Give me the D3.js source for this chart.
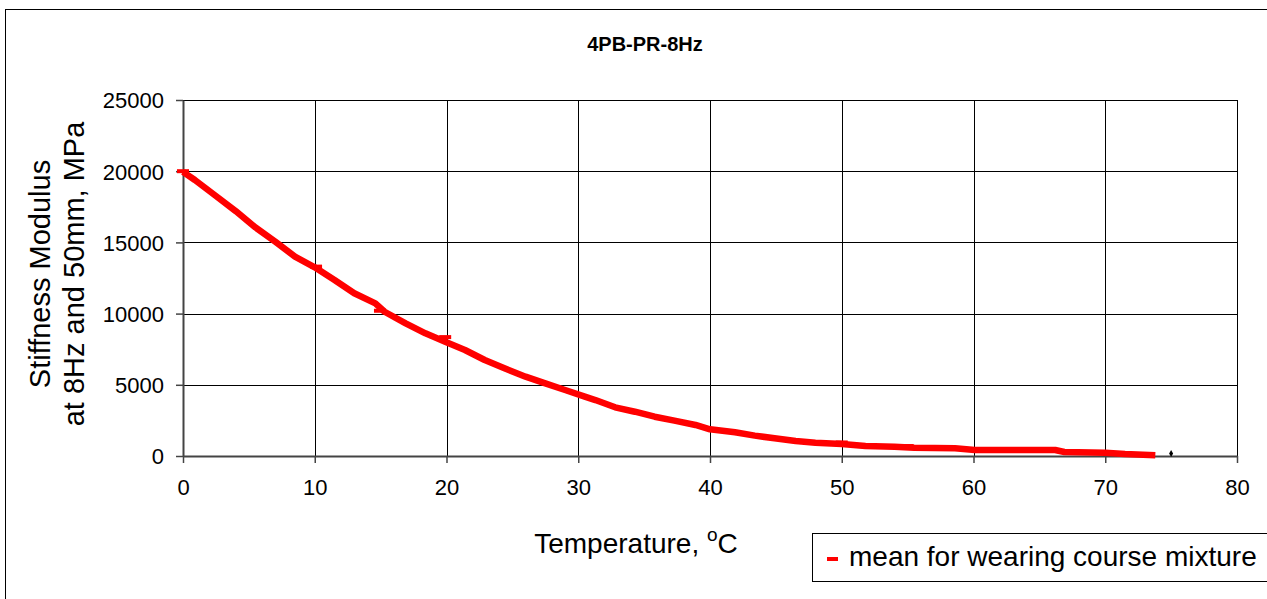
<!DOCTYPE html>
<html>
<head>
<meta charset="utf-8">
<script src="https://cdn.jsdelivr.net/npm/d3@7/dist/d3.min.js"></script>
<style>
  html, body { margin: 0; padding: 0; background: #fff; }
  svg { display: block; font-family: "Liberation Sans", Arial, sans-serif; }
</style>
</head>
<body>
<svg id="chart" width="1267" height="599"></svg>
<script>
// Stiffness modulus master curve (temperature in °C, stiffness in MPa)
const curveTemp = [0, 0.9, 2.4, 4.0, 5.5, 7.0, 8.5, 10.0, 11.5, 13.0, 14.6, 15.3, 16.9, 18.4, 19.9,
  21.4, 22.9, 24.4, 26.0, 27.5, 29.0, 30.5, 31.3, 32.8, 34.3, 35.8, 37.3, 38.9, 40.0, 41.9,
  43.4, 44.9, 46.5, 48.0, 50.0, 51.8, 54.0, 55.5, 58.6, 60.1, 66.2, 66.9, 70.0, 71.5, 73.8];
const curveStiffness = [19950, 19380, 18330, 17200, 16050, 15050, 14000, 13250, 12360, 11425, 10720, 10130, 9320, 8615, 8030,
  7445, 6740, 6160, 5570, 5100, 4635, 4165, 3930, 3420, 3110, 2760, 2480, 2180, 1875, 1665,
  1430, 1240, 1050, 935, 843, 700, 655, 585, 540, 420, 420, 280, 235, 140, 50];

// Mean values at the test temperatures (dash markers)
const meanTemp = [0, 10.1, 14.95, 19.9, 50, 55];
const meanStiffness = [20000, 13300, 10200, 8350, 950, 700];

// Single point measured at 75 °C
const extraTemp = [75];
const extraStiffness = [180];

const xTicks = [0, 10, 20, 30, 40, 50, 60, 70, 80];
const yTicks = [0, 5000, 10000, 15000, 20000, 25000];

const chartTitle = "4PB-PR-8Hz";
const yTitleLines = ["Stiffness Modulus", "at 8Hz and 50mm, MPa"];
const legendLabel = "mean for wearing course mixture";

const svg = d3.select("#chart");
const plot = { left: 183, right: 1237, top: 100, bottom: 456 };

const x = d3.scaleLinear().domain([0, 80]).range([plot.left, plot.right]);
const y = d3.scaleLinear().domain([0, 25000]).range([plot.bottom, plot.top]);

// Outer chart frame
svg.append("rect")
  .attr("x", 5.5).attr("y", 9.5).attr("width", 1400).attr("height", 700)
  .attr("fill", "#fff").attr("stroke", "#000").attr("stroke-width", 1);

// Title
svg.append("text")
  .attr("x", 645).attr("y", 51)
  .attr("text-anchor", "middle")
  .attr("font-size", 20).attr("font-weight", "bold")
  .text(chartTitle);

// Gridlines
const grid = svg.append("g");
grid.selectAll("line.v").data(xTicks.filter(d => d > 0)).join("line")
  .attr("x1", d => Math.round(x(d)) + 0.5).attr("x2", d => Math.round(x(d)) + 0.5)
  .attr("y1", plot.top).attr("y2", plot.bottom)
  .attr("stroke", "#000").attr("stroke-width", 1);
grid.selectAll("line.h").data(yTicks.filter(d => d > 0)).join("line")
  .attr("x1", plot.left).attr("x2", plot.right)
  .attr("y1", d => Math.round(y(d)) + 0.5).attr("y2", d => Math.round(y(d)) + 0.5)
  .attr("stroke", "#000").attr("stroke-width", 1);

// Axes
const xAxis = d3.axisBottom(x).tickValues(xTicks).tickFormat(d3.format("d"))
  .tickSize(7).tickPadding(16).tickSizeOuter(0);
const yAxis = d3.axisLeft(y).tickValues(yTicks).tickFormat(d3.format("d"))
  .tickSize(7).tickPadding(12).tickSizeOuter(0);

const gx = svg.append("g").attr("transform", `translate(0,${plot.bottom})`).call(xAxis);
const gy = svg.append("g").attr("transform", `translate(${plot.left},0)`).call(yAxis);
[gx, gy].forEach(g => {
  g.select(".domain").attr("stroke", "#444").attr("stroke-width", 2);
  g.selectAll(".tick line").attr("stroke", "#444").attr("stroke-width", 1.5);
  g.selectAll(".tick text").attr("font-size", 22).attr("fill", "#000")
    .attr("font-family", "'Liberation Sans', Arial, sans-serif");
});
gy.selectAll(".tick text").attr("dy", "0.36em");

// Axis titles
const xTitle = svg.append("text")
  .attr("x", 636).attr("y", 553)
  .attr("text-anchor", "middle")
  .attr("font-size", 28);
xTitle.append("tspan").text("Temperature, ");
xTitle.append("tspan").attr("font-size", 19).attr("dy", -12).text("o");
xTitle.append("tspan").attr("dy", 12).text("C");

const yTitle = svg.append("text")
  .attr("transform", "translate(50,274) rotate(-90)")
  .attr("text-anchor", "middle")
  .attr("font-size", 29);
yTitle.selectAll("tspan").data(yTitleLines).join("tspan")
  .attr("x", 0).attr("dy", (d, i) => i === 0 ? 0 : 34)
  .text(d => d);

// Data curve
const pts = curveTemp.map((t, i) => [t, curveStiffness[i]]);
const line = d3.line().x(d => x(d[0])).y(d => y(d[1]));
svg.append("path")
  .datum(pts)
  .attr("d", line)
  .attr("fill", "none")
  .attr("stroke", "#ff0000")
  .attr("stroke-width", 6.5)
  .attr("stroke-linejoin", "round");

// Mean dash markers
svg.selectAll("line.mean").data(meanTemp.map((t, i) => [t, meanStiffness[i]])).join("line")
  .attr("x1", d => x(d[0]) - 6).attr("x2", d => x(d[0]) + 6)
  .attr("y1", d => y(d[1])).attr("y2", d => y(d[1]))
  .attr("stroke", "#ff0000").attr("stroke-width", 4);

// Single black point
svg.selectAll("path.extra").data(extraTemp.map((t, i) => [t, extraStiffness[i]])).join("path")
  .attr("d", d3.symbol(d3.symbolDiamond, 14))
  .attr("transform", d => `translate(${x(d[0])},${y(d[1])})`)
  .attr("fill", "#000");

// Legend
const lg = svg.append("g");
lg.append("rect")
  .attr("x", 812.5).attr("y", 533.5).attr("width", 500).attr("height", 48)
  .attr("fill", "#fff").attr("stroke", "#000").attr("stroke-width", 1);
lg.append("line")
  .attr("x1", 827).attr("x2", 838).attr("y1", 559).attr("y2", 559)
  .attr("stroke", "#ff0000").attr("stroke-width", 4);
lg.append("text")
  .attr("x", 849).attr("y", 566)
  .attr("font-size", 28)
  .text(legendLabel);
</script>
</body>
</html>
